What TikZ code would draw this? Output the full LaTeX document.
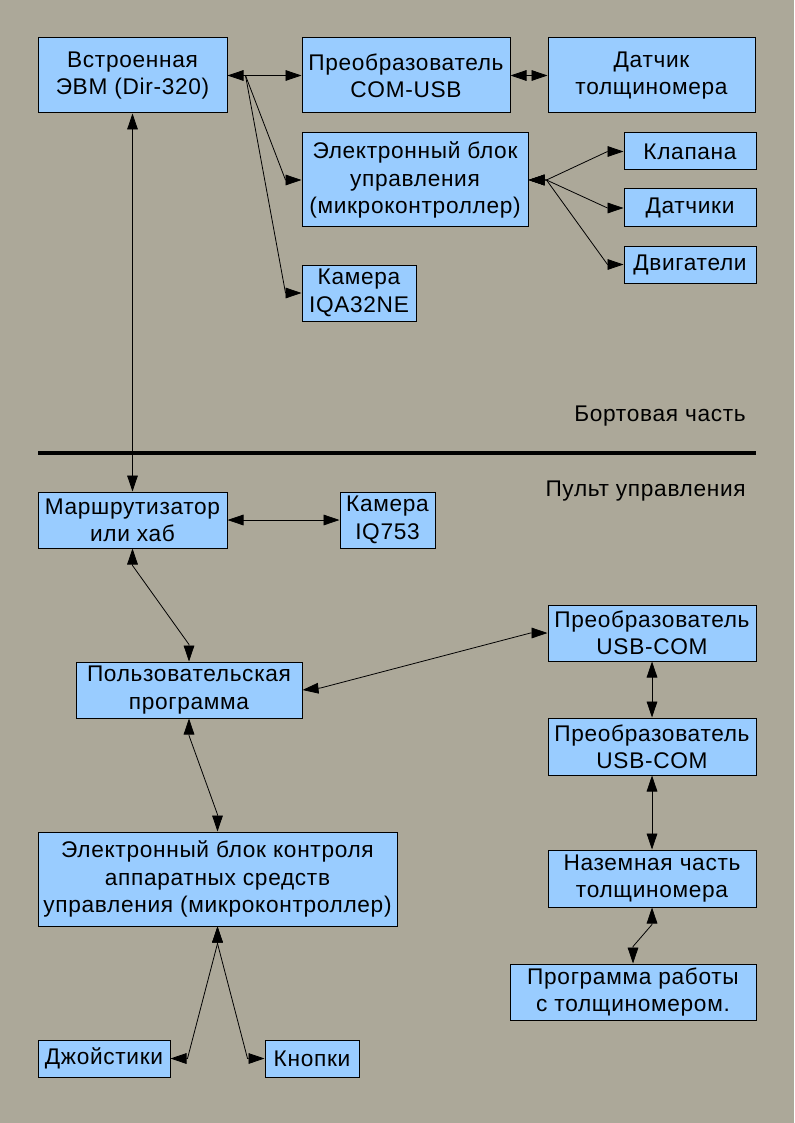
\documentclass[tikz,border=0pt]{standalone}
\usepackage{fontspec}
\setmainfont{Liberation Sans}[LetterSpace=3]
\usetikzlibrary{arrows.meta}
\definecolor{bgc}{HTML}{ACA899}
\definecolor{boxc}{HTML}{99CCFF}
\begin{document}
\begin{tikzpicture}[x=0.75pt,y=-0.75pt,
  box/.style={draw=black,line width=0.75pt,fill=boxc,inner sep=0pt,align=center,
    font=\fontsize{17pt}{20.5pt}\selectfont},
  lbl/.style={inner sep=0pt,font=\fontsize{17pt}{20.5pt}\selectfont},
  conn/.style={line width=0.6pt,black},
  tip/.tip={Triangle[length=12pt,width=8pt]},
  bi/.style={conn,tip-tip},
  uni/.style={conn,-tip}]
\fill[bgc] (0,0) rectangle (794,1123);
\useasboundingbox (0,0) rectangle (794,1123);

% upper part
\node[box,minimum width=141.75pt,minimum height=56.25pt] (ebm) at (132.5,75.5) {Встроенная\\ЭВМ (Dir-320)};
\node[box,minimum width=156pt,minimum height=56.25pt] (comusb) at (406,75.5) {Преобразователь\\COM-USB};
\node[box,minimum width=155.25pt,minimum height=56.25pt] (sensor) at (651.5,75.5) {Датчик\\толщиномера};
\node[box,minimum width=169.5pt,minimum height=70.5pt] (ecu) at (415,180) {Электронный блок\\управления\\(микроконтроллер)};
\node[box,minimum width=85.5pt,minimum height=42pt] (cam1) at (359,293) {Камера\\IQA32NE};
\node[box,minimum width=99pt,minimum height=27.75pt] (valves) at (690,151.5) {Клапана};
\node[box,minimum width=99pt,minimum height=28.5pt] (sensors) at (690,208) {Датчики};
\node[box,minimum width=99pt,minimum height=27.75pt] (motors) at (690,264.5) {Двигатели};

% separator
\coordinate (sepL) at (38,453);
\coordinate (sepR) at (756,453);
\draw[line width=3pt] (sepL) -- (sepR);
\node[lbl,anchor=east] (onboard) at (746,416) {Бортовая часть};
\node[lbl,anchor=east] (console) at (746,491) {Пульт управления};

% lower part
\node[box,minimum width=141.75pt,minimum height=42pt] (router) at (132.5,520) {Маршрутизатор\\или хаб};
\node[box,minimum width=71.25pt,minimum height=42pt] (cam2) at (387.5,520) {Камера\\IQ753};
\node[box,minimum width=169.5pt,minimum height=42pt] (userprog) at (189,690) {Пользовательская\\программа};
\node[box,minimum width=156pt,minimum height=42pt] (usbcom1) at (652,633) {Преобразователь\\USB-COM};
\node[box,minimum width=156pt,minimum height=42.75pt] (usbcom2) at (652,746.5) {Преобразователь\\USB-COM};
\node[box,minimum width=156pt,minimum height=42.75pt] (ground) at (652,878.5) {Наземная часть\\толщиномера};
\node[box,minimum width=184.5pt,minimum height=42pt] (prog) at (633,992) {Программа работы\\с толщиномером.};
\node[box,minimum width=269.25pt,minimum height=70.5pt] (ctrl) at (217.5,879) {Электронный блок контроля\\аппаратных средств\\управления (микроконтроллер)};
\node[box,minimum width=99pt,minimum height=27.75pt] (joy) at (104,1058.5) {Джойстики};
\node[box,minimum width=70.5pt,minimum height=27.75pt] (btn) at (312,1058.5) {Кнопки};

% connectors upper
\draw[bi] (ebm.east) -- (comusb.west);
\draw[uni] (ebm.east) -- ++(18,0) -- ([xshift=-12pt]ecu.west) -- (ecu.west);
\draw[uni] (ebm.east) -- ++(18,0) -- ([xshift=-12pt]cam1.west) -- (cam1.west);
\draw[bi] (comusb.east) -- (sensor.west);
\draw[bi] (ecu.east) -- ++(18,0) -- ([xshift=-12pt]valves.west) -- (valves.west);
\draw[bi] (ecu.east) -- ++(18,0) -- ([xshift=-12pt]sensors.west) -- (sensors.west);
\draw[bi] (ecu.east) -- ++(18,0) -- ([xshift=-12pt]motors.west) -- (motors.west);
\draw[bi] (ebm.south) -- (router.north);

% connectors lower
\draw[bi] (router.east) -- (cam2.west);
\draw[bi] (router.south) -- ++(0,17) -- ([yshift=12.75pt]userprog.north) -- (userprog.north);
\draw[bi] (userprog.east) -- ++(18,-2) -- ([xshift=-12.75pt]usbcom1.west) -- (usbcom1.west);
\draw[bi] (usbcom1.south) -- (usbcom2.north);
\draw[bi] (usbcom2.south) -- (ground.north);
\draw[bi] (ground.south) -- ++(0,17) -- ([yshift=12.75pt]prog.north) -- (prog.north);
\draw[bi] (userprog.south) -- ++(0,17) -- ([yshift=12.75pt]ctrl.north) -- (ctrl.north);
\draw[bi] (ctrl.south) -- ++(0,17) -- ([xshift=12.75pt]joy.east) -- (joy.east);
\draw[bi] (ctrl.south) -- ++(0,17) -- ([xshift=-12.75pt]btn.west) -- (btn.west);
\end{tikzpicture}
\end{document}
